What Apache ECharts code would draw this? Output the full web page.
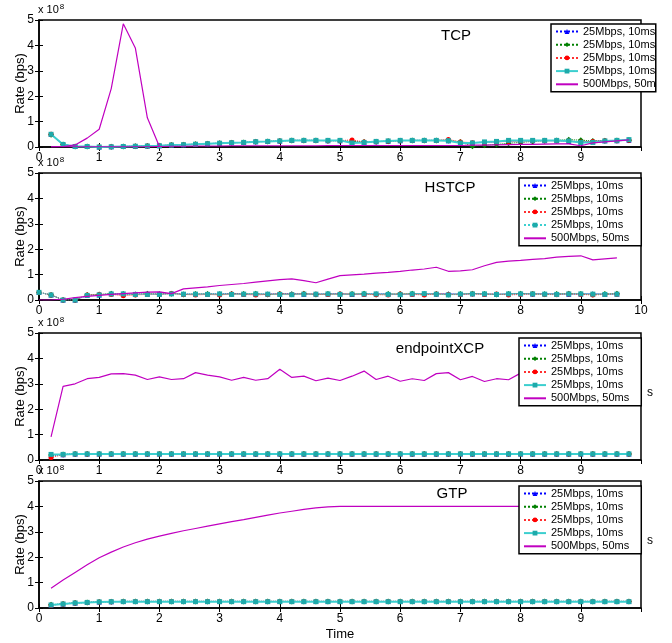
<!DOCTYPE html>
<html>
<head>
<meta charset="utf-8">
<script src="https://cdn.jsdelivr.net/npm/echarts@6/dist/echarts.min.js"></script>
<style>
    html, body { margin: 0; padding: 0; background: #fff; }
    #chart { width: 672px; height: 643px; }
</style>
</head>
<body>
<div id="chart"></div>
<script>
// values are in units of 1e8 bps (axis shows "x 10^8")
var panelTitles = ['TCP', 'HSTCP', 'endpointXCP', 'GTP'];
var seriesLabels = ['25Mbps, 10ms', '25Mbps, 10ms', '25Mbps, 10ms', '25Mbps, 10ms', '500Mbps, 50ms'];
var xTicks = [0, 1, 2, 3, 4, 5, 6, 7, 8, 9, 10];
var yTicks = [0, 1, 2, 3, 4, 5];

// time stamps (s)
var timeA = [0.2, 0.4, 0.6, 0.8, 1.0, 1.2, 1.4, 1.6, 1.8, 2.0, 2.2, 2.4, 2.6, 2.8, 3.0, 3.2, 3.4, 3.6, 3.8, 4.0,
    4.2, 4.4, 4.6, 4.8, 5.0, 5.2, 5.4, 5.6, 5.8, 6.0, 6.2, 6.4, 6.6, 6.8, 7.0, 7.2, 7.4, 7.6, 7.8, 8.0,
    8.2, 8.4, 8.6, 8.8, 9.0, 9.2, 9.4, 9.6, 9.8];
var timeB = [0, 0.2, 0.4, 0.6, 0.8, 1.0, 1.2, 1.4, 1.6, 1.8, 2.0, 2.2, 2.4, 2.6, 2.8, 3.0, 3.2, 3.4, 3.6, 3.8,
    4.0, 4.2, 4.4, 4.6, 4.8, 5.0, 5.2, 5.4, 5.6, 5.8, 6.0, 6.2, 6.4, 6.6, 6.8, 7.0, 7.2, 7.4, 7.6, 7.8,
    8.0, 8.2, 8.4, 8.6, 8.8, 9.0, 9.2, 9.4, 9.6];

// TCP
var tcpBlue = [0.5, 0.1, 0.02, 0.02, 0.0, 0.01, 0.02, 0.03, 0.04, 0.05, 0.08, 0.09, 0.11, 0.13, 0.15, 0.17, 0.18, 0.21, 0.22, 0.24,
    0.26, 0.26, 0.26, 0.25, 0.25, 0.2, 0.2, 0.21, 0.23, 0.25, 0.26, 0.26, 0.26, 0.25, 0.18, 0.17, 0.19, 0.2, 0.24, 0.24,
    0.25, 0.25, 0.25, 0.22, 0.2, 0.22, 0.25, 0.25, 0.27];
var tcpGreen = [0.48, 0.1, 0.02, 0.02, 0.0, 0.01, 0.02, 0.03, 0.04, 0.05, 0.08, 0.09, 0.11, 0.13, 0.15, 0.17, 0.18, 0.21, 0.22, 0.24,
    0.26, 0.26, 0.26, 0.25, 0.25, 0.22, 0.2, 0.21, 0.23, 0.25, 0.26, 0.26, 0.26, 0.26, 0.2, 0.03, 0.07, 0.1, 0.15, 0.18,
    0.22, 0.25, 0.26, 0.29, 0.27, 0.24, 0.25, 0.26, 0.27];
var tcpRed = [0.5, 0.1, 0.02, 0.02, 0.0, 0.01, 0.02, 0.03, 0.04, 0.05, 0.08, 0.09, 0.11, 0.13, 0.15, 0.17, 0.18, 0.21, 0.22, 0.24,
    0.26, 0.26, 0.26, 0.25, 0.25, 0.28, 0.2, 0.21, 0.23, 0.25, 0.26, 0.26, 0.26, 0.3, 0.2, 0.17, 0.18, 0.2, 0.22, 0.24,
    0.25, 0.25, 0.25, 0.24, 0.2, 0.22, 0.25, 0.25, 0.27];
var tcpCyan = [0.5, 0.1, 0.02, 0.02, 0.0, 0.01, 0.02, 0.03, 0.04, 0.05, 0.08, 0.09, 0.11, 0.13, 0.15, 0.17, 0.18, 0.21, 0.22, 0.24,
    0.26, 0.26, 0.26, 0.26, 0.26, 0.16, 0.18, 0.22, 0.24, 0.26, 0.26, 0.26, 0.26, 0.25, 0.16, 0.16, 0.2, 0.22, 0.26, 0.26,
    0.26, 0.26, 0.26, 0.24, 0.18, 0.18, 0.24, 0.26, 0.29];
var tcpMagenta = [0.0, 0.02, 0.08, 0.35, 0.7, 2.3, 4.85, 3.9, 1.15, 0.02, 0.03, 0.03, 0.04, 0.04, 0.04, 0.05, 0.05, 0.05, 0.05, 0.05,
    0.05, 0.05, 0.05, 0.06, 0.06, 0.06, 0.06, 0.06, 0.06, 0.06, 0.06, 0.06, 0.06, 0.06, 0.06, 0.07, 0.07, 0.08, 0.09, 0.1,
    0.1, 0.11, 0.12, 0.12, 0.05, 0.16, 0.2, 0.24, 0.28];
var tcpMagentaFloor = [0.01, 0.01, 0.01, 0.01, 0.01, 0.01, 0.01, 0.01, 0.01, 0.02];

// HSTCP
var hsBlue = [0.3, 0.2, 0.0, 0.0, 0.18, 0.2, 0.25, 0.22, 0.24, 0.23, 0.24, 0.26, 0.24, 0.23, 0.24, 0.24, 0.25, 0.24, 0.23, 0.24,
    0.24, 0.25, 0.23, 0.24, 0.24, 0.25, 0.22, 0.24, 0.25, 0.24, 0.22, 0.24, 0.25, 0.24, 0.25, 0.23, 0.25, 0.24, 0.23, 0.24,
    0.25, 0.24, 0.25, 0.24, 0.23, 0.24, 0.25, 0.23, 0.24];
var hsGreen = [0.3, 0.2, 0.0, 0.0, 0.2, 0.22, 0.25, 0.24, 0.22, 0.25, 0.23, 0.25, 0.22, 0.24, 0.24, 0.23, 0.24, 0.24, 0.25, 0.22,
    0.24, 0.23, 0.25, 0.22, 0.24, 0.23, 0.24, 0.25, 0.22, 0.24, 0.24, 0.25, 0.23, 0.24, 0.22, 0.24, 0.25, 0.24, 0.22, 0.24,
    0.25, 0.24, 0.23, 0.24, 0.25, 0.24, 0.22, 0.24, 0.25];
var hsRed = [0.3, 0.2, 0.0, 0.0, 0.2, 0.22, 0.22, 0.17, 0.2, 0.22, 0.22, 0.26, 0.22, 0.2, 0.22, 0.2, 0.24, 0.22, 0.2, 0.22,
    0.24, 0.22, 0.24, 0.23, 0.22, 0.24, 0.23, 0.22, 0.21, 0.2, 0.24, 0.22, 0.2, 0.24, 0.22, 0.21, 0.24, 0.22, 0.24, 0.2,
    0.22, 0.24, 0.22, 0.21, 0.24, 0.22, 0.2, 0.22, 0.23];
var hsCyan = [0.3, 0.2, 0.0, 0.0, 0.18, 0.2, 0.24, 0.24, 0.22, 0.22, 0.22, 0.24, 0.23, 0.23, 0.22, 0.24, 0.22, 0.23, 0.24, 0.23,
    0.22, 0.21, 0.23, 0.23, 0.24, 0.22, 0.23, 0.24, 0.24, 0.22, 0.21, 0.24, 0.25, 0.23, 0.2, 0.23, 0.24, 0.24, 0.22, 0.24,
    0.24, 0.24, 0.23, 0.22, 0.24, 0.24, 0.23, 0.22, 0.23];
var hsMagenta = [0.0, 0.0, 0.03, 0.09, 0.14, 0.18, 0.22, 0.25, 0.28, 0.31, 0.32, 0.25, 0.44, 0.48, 0.52, 0.57, 0.61, 0.65, 0.7, 0.75,
    0.8, 0.83, 0.76, 0.68, 0.82, 0.96, 0.99, 1.02, 1.06, 1.09, 1.13, 1.18, 1.22, 1.29, 1.13, 1.15, 1.19, 1.35, 1.48, 1.53,
    1.56, 1.6, 1.63, 1.69, 1.72, 1.74, 1.58, 1.62, 1.66];

// endpointXCP
var xcpBlue = [0.17, 0.21, 0.24, 0.24, 0.24, 0.24, 0.24, 0.24, 0.24, 0.24, 0.24, 0.24, 0.24, 0.24, 0.24, 0.24, 0.24, 0.24, 0.24, 0.24,
    0.24, 0.24, 0.24, 0.24, 0.24, 0.24, 0.24, 0.24, 0.24, 0.24, 0.24, 0.24, 0.24, 0.24, 0.24, 0.24, 0.24, 0.24, 0.24, 0.24,
    0.24, 0.24, 0.24, 0.24, 0.24, 0.24, 0.24, 0.24, 0.24];
var xcpGreen = [0.2, 0.22, 0.24, 0.24, 0.24, 0.24, 0.24, 0.24, 0.24, 0.24, 0.24, 0.24, 0.24, 0.24, 0.24, 0.24, 0.24, 0.24, 0.24, 0.24,
    0.24, 0.24, 0.24, 0.24, 0.24, 0.24, 0.24, 0.24, 0.24, 0.24, 0.24, 0.24, 0.24, 0.24, 0.24, 0.24, 0.24, 0.24, 0.24, 0.24,
    0.24, 0.24, 0.24, 0.24, 0.24, 0.24, 0.24, 0.24, 0.24];
var xcpRed = [0.1, 0.21, 0.24, 0.24, 0.24, 0.24, 0.24, 0.24, 0.24, 0.24, 0.24, 0.24, 0.24, 0.24, 0.24, 0.24, 0.24, 0.24, 0.24, 0.24,
    0.24, 0.24, 0.24, 0.24, 0.24, 0.24, 0.24, 0.24, 0.24, 0.24, 0.24, 0.24, 0.24, 0.24, 0.24, 0.24, 0.24, 0.24, 0.24, 0.24,
    0.24, 0.24, 0.24, 0.24, 0.24, 0.24, 0.24, 0.24, 0.24];
var xcpCyan = [0.22, 0.22, 0.24, 0.24, 0.24, 0.24, 0.24, 0.24, 0.24, 0.24, 0.24, 0.24, 0.24, 0.24, 0.24, 0.24, 0.24, 0.24, 0.24, 0.24,
    0.24, 0.24, 0.24, 0.24, 0.24, 0.24, 0.24, 0.24, 0.24, 0.24, 0.24, 0.24, 0.24, 0.24, 0.24, 0.24, 0.24, 0.24, 0.24, 0.24,
    0.24, 0.24, 0.24, 0.24, 0.24, 0.24, 0.24, 0.24, 0.24];
var xcpMagenta = [0.91, 2.9, 3.0, 3.2, 3.25, 3.39, 3.4, 3.34, 3.17, 3.27, 3.17, 3.2, 3.44, 3.34, 3.27, 3.14, 3.25, 3.14, 3.2, 3.57,
    3.25, 3.3, 3.12, 3.22, 3.13, 3.3, 3.5, 3.17, 3.3, 3.1, 3.2, 3.13, 3.4, 3.44, 3.16, 3.29, 3.09, 3.2, 3.16, 3.42,
    3.3, 3.22, 3.35, 3.2, 3.28, 3.18, 3.3, 3.22, 3.26];

// GTP
var gtpBlue = [0.12, 0.16, 0.2, 0.22, 0.24, 0.25, 0.26, 0.26, 0.26, 0.26, 0.26, 0.26, 0.26, 0.26, 0.26, 0.26, 0.26, 0.26, 0.26, 0.26,
    0.26, 0.26, 0.26, 0.26, 0.26, 0.26, 0.26, 0.26, 0.26, 0.26, 0.26, 0.26, 0.26, 0.26, 0.26, 0.26, 0.26, 0.26, 0.26, 0.26,
    0.26, 0.26, 0.26, 0.26, 0.26, 0.26, 0.26, 0.26, 0.26];
var gtpGreen = [0.13, 0.16, 0.2, 0.22, 0.24, 0.25, 0.26, 0.26, 0.26, 0.26, 0.26, 0.26, 0.26, 0.26, 0.26, 0.26, 0.26, 0.26, 0.26, 0.26,
    0.26, 0.26, 0.26, 0.26, 0.26, 0.26, 0.26, 0.26, 0.26, 0.26, 0.26, 0.26, 0.26, 0.26, 0.26, 0.26, 0.26, 0.26, 0.26, 0.26,
    0.26, 0.26, 0.26, 0.26, 0.26, 0.26, 0.26, 0.26, 0.26];
var gtpRed = [0.11, 0.16, 0.2, 0.22, 0.24, 0.25, 0.26, 0.26, 0.26, 0.26, 0.26, 0.26, 0.26, 0.26, 0.26, 0.26, 0.26, 0.26, 0.26, 0.26,
    0.26, 0.26, 0.26, 0.26, 0.26, 0.26, 0.26, 0.26, 0.26, 0.26, 0.26, 0.26, 0.26, 0.26, 0.26, 0.26, 0.26, 0.26, 0.26, 0.26,
    0.26, 0.26, 0.26, 0.26, 0.26, 0.26, 0.26, 0.26, 0.26];
var gtpCyan = [0.12, 0.16, 0.2, 0.22, 0.24, 0.25, 0.25, 0.25, 0.25, 0.25, 0.25, 0.25, 0.25, 0.25, 0.25, 0.25, 0.25, 0.25, 0.25, 0.25,
    0.25, 0.25, 0.25, 0.25, 0.25, 0.25, 0.25, 0.25, 0.25, 0.25, 0.25, 0.25, 0.25, 0.25, 0.25, 0.25, 0.25, 0.25, 0.25, 0.25,
    0.25, 0.25, 0.25, 0.25, 0.25, 0.25, 0.25, 0.25, 0.25];
var gtpMagenta = [0.78, 1.1, 1.4, 1.7, 1.98, 2.2, 2.4, 2.57, 2.71, 2.83, 2.94, 3.04, 3.13, 3.22, 3.31, 3.4, 3.48, 3.57, 3.66, 3.74,
    3.81, 3.88, 3.94, 3.98, 4.0, 4.0, 4.0, 4.0, 4.0, 4.0, 4.0, 4.0, 4.0, 4.0, 4.0, 4.0, 4.0, 4.0, 4.0, 4.0,
    4.0, 4.0, 4.0, 4.0, 4.0, 4.0, 4.0, 4.0, 4.0];


var FONT = 'Liberation Sans, Arial, sans-serif';
var chart = echarts.init(document.getElementById('chart'));

/**
 * panel layout
 */
var gridTops = [20, 173, 333, 481];
var gridHeight = 127;
var gridLeft = 39;
var gridWidth = 602;

var panels = [
    {time: timeA, data: [tcpBlue, tcpGreen, tcpRed, tcpCyan, tcpMagenta], showTen: false, cyanDotted: false,
        legend: {left: 551, top: 24, clip: true}, title: {x: 456, y: 36}},
    {time: timeB, data: [hsBlue, hsGreen, hsRed, hsCyan, hsMagenta], showTen: true, cyanDotted: true,
        legend: {left: 519, top: 178, clip: false}, title: {x: 450, y: 188}},
    {time: timeA, data: [xcpBlue, xcpGreen, xcpRed, xcpCyan, xcpMagenta], showTen: false, cyanDotted: false,
        legend: {left: 519, top: 338, clip: false}, title: {x: 440, y: 349}},
    {time: timeA, data: [gtpBlue, gtpGreen, gtpRed, gtpCyan, gtpMagenta], showTen: false, cyanDotted: false,
        legend: {left: 519, top: 486, clip: false}, title: {x: 452, y: 494}}
];

var styles = [
    {color: '#0000ff', line: '#0000ff', symbol: 'triangle', size: 5, type: 'dotted', width: 1},
    {color: '#008000', line: '#008000', symbol: 'diamond', size: 6, type: 'dotted', width: 1},
    {color: '#ff0000', line: '#ff3030', symbol: 'circle', size: 5, type: 'dotted', width: 1},
    {color: '#1eaaaa', line: '#3ccfcf', symbol: 'rect', size: 5, type: 'solid', width: 2},
    {color: '#c000c0', line: '#c000c0', symbol: 'none', size: 0, type: 'solid', width: 1.2}
];

function pairs(time, values) {
    var out = [];
    for (var i = 0; i < values.length; i++) {
        out.push([time[i], values[i]]);
    }
    return out;
}

var grids = [], xAxes = [], yAxes = [], series = [], legends = [], graphics = [];

for (var p = 0; p < panels.length; p++) {
    var panel = panels[p];
    grids.push({left: gridLeft, top: gridTops[p], width: gridWidth, height: gridHeight,
        show: true, borderColor: '#000', borderWidth: 1.5, backgroundColor: '#fff'});

    // bottom / left axes with labels
    xAxes.push({
        type: 'value', gridIndex: p, min: xTicks[0], max: xTicks[xTicks.length - 1], interval: 1,
        axisLine: {show: true, onZero: false, lineStyle: {color: '#000', width: 1.5}},
        axisTick: {inside: true, length: 4, lineStyle: {color: '#000'}},
        splitLine: {show: false},
        axisLabel: {color: '#000', fontSize: 12, fontFamily: FONT, margin: 5,
            showMaxLabel: panel.showTen,
            formatter: function (v) { return String(v); }},
        name: p === 3 ? 'Time' : '', nameLocation: 'middle', nameGap: 20, nameMoveOverlap: false,
        nameTextStyle: {color: '#000', fontSize: 13, fontFamily: FONT}
    });
    // top mirror axis (ticks only)
    xAxes.push({
        type: 'value', gridIndex: p, position: 'top', min: xTicks[0], max: xTicks[xTicks.length - 1], interval: 1,
        axisLine: {show: false}, axisLabel: {show: false}, splitLine: {show: false},
        axisTick: {inside: true, length: 4, lineStyle: {color: '#000'}}
    });
    yAxes.push({
        type: 'value', gridIndex: p, min: yTicks[0], max: yTicks[yTicks.length - 1], interval: 1,
        axisLine: {show: true, lineStyle: {color: '#000', width: 1.5}},
        axisTick: {inside: true, length: 4, lineStyle: {color: '#000'}},
        splitLine: {show: false},
        axisLabel: {color: '#000', fontSize: 12, fontFamily: FONT, margin: 5},
        name: 'Rate (bps)', nameLocation: 'middle', nameGap: 12, nameMoveOverlap: false,
        nameTextStyle: {color: '#000', fontSize: 13, fontFamily: FONT}
    });
    yAxes.push({
        type: 'value', gridIndex: p, position: 'right', min: yTicks[0], max: yTicks[yTicks.length - 1], interval: 1,
        axisLine: {show: false}, axisLabel: {show: false}, splitLine: {show: false},
        axisTick: {inside: true, length: 4, lineStyle: {color: '#000'}}
    });

    var legendItems = [];
    for (var s = 0; s < 5; s++) {
        var st = styles[s];
        var dotted = s === 3 && panel.cyanDotted;
        var name = seriesLabels[s] + '#' + p + s;
        if (s === 4) {
            legendItems.push({name: name, itemStyle: {color: 'rgba(0,0,0,0)', borderWidth: 0}});
        } else {
            legendItems.push({name: name});
        }
        series.push({
            type: 'line', name: name, xAxisIndex: p * 2, yAxisIndex: p * 2,
            data: pairs(panel.time, panel.data[s]),
            symbol: st.symbol, symbolSize: st.size, showSymbol: st.symbol !== 'none',
            itemStyle: {color: st.color},
            lineStyle: {color: st.line, type: dotted ? 'dotted' : st.type, width: dotted ? 1 : st.width},
            animation: false, z: 2 + s
        });
    }
    if (p === 0) {
        // flat low segment of the 500Mbps flow
        series.push({
            type: 'line', name: legendItems[4].name, xAxisIndex: 0, yAxisIndex: 0,
            data: pairs(timeA, tcpMagentaFloor), showSymbol: false, symbol: 'none',
            lineStyle: {color: styles[4].line, width: 1.2}, itemStyle: {color: styles[4].color},
            animation: false, z: 6
        });
    }

    legends.push({
        data: legendItems, orient: 'vertical', left: panel.legend.left, top: panel.legend.top,
        itemWidth: 22, itemHeight: 6, itemGap: 2.2,
        padding: panel.legend.clip ? [2, 0, 2, 4] : [2, 12, 2, 4],
        backgroundColor: '#fff', borderColor: '#000', borderWidth: 1.5, z: 20,
        selectedMode: false,
        textStyle: panel.legend.clip
            ? {color: '#000', fontSize: 11, fontFamily: FONT, width: 74, overflow: 'truncate', ellipsis: ''}
            : {color: '#000', fontSize: 11, fontFamily: FONT},
        formatter: function (n) { return n.split('#')[0]; }
    });

    // panel title
    graphics.push({type: 'text', x: panel.title.x, y: panel.title.y, z: 30,
        style: {text: panelTitles[p], fill: '#000', font: '15px ' + FONT, align: 'center', verticalAlign: 'middle'}});
    // "x 10^8" multiplier
    graphics.push({type: 'text', x: 38, y: gridTops[p] - 10, z: 30,
        style: {text: 'x 10{s|8}', fill: '#000', font: '11px ' + FONT, verticalAlign: 'middle',
            rich: {s: {fontSize: 8, fontFamily: FONT, padding: [0, 0, 7, 1]}}}});
}

// stray clipped label fragments at the right edge
graphics.push({type: 'text', x: 647, y: 393, style: {text: 's', fill: '#000', font: '12px ' + FONT, verticalAlign: 'middle'}});
graphics.push({type: 'text', x: 647, y: 541, style: {text: 's', fill: '#000', font: '12px ' + FONT, verticalAlign: 'middle'}});

chart.setOption({
    backgroundColor: '#fff',
    animation: false,
    grid: grids,
    xAxis: xAxes,
    yAxis: yAxes,
    legend: legends,
    series: series,
    graphic: graphics
});
</script>
</body>
</html>
